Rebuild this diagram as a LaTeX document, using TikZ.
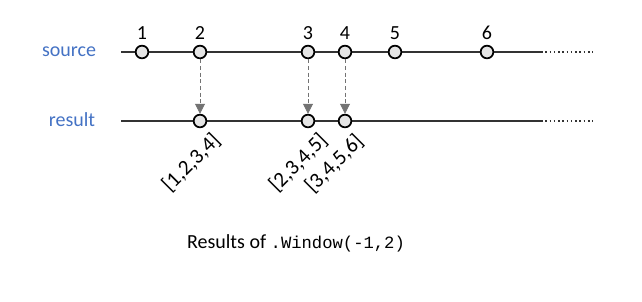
\documentclass[tikz,border=0pt]{standalone}
\usepackage{fontspec}
\setmainfont{Carlito}
\setmonofont{Liberation Mono}[Scale=0.86]
\usetikzlibrary{arrows.meta,positioning}
\definecolor{lineblue}{RGB}{68,114,196}

\begin{document}
\begin{tikzpicture}[x=0.75pt,y=-0.75pt,
  font=\fontsize{15}{18}\selectfont,
  marble/.style={draw=black,circle,line width=1.3pt,fill=gray!20,inner sep=0pt,minimum size=9.5pt},
  tl/.style={line width=1.5pt,draw=black!80},
  tail/.style={dotted,line width=1.2pt,draw=black!80},
  lbl/.style={text=lineblue},
  num/.style={inner sep=0pt},
  feed/.style={draw=black!55,dash pattern=on 3pt off 2pt,line width=0.6pt,
    -{Triangle[width=7.5pt,length=7.5pt,fill=black!55]}},
  win/.style={rotate=45,anchor=east,inner sep=0pt,font=\fontsize{16}{19}\selectfont}
]
\useasboundingbox (0,0) rectangle (642,301);

% ---- time lines ----
\coordinate (sa) at (121,52); \coordinate (sb) at (541,52); \coordinate (sc) at (593,52);
\coordinate (ra) at (121,121); \coordinate (rb) at (541,121); \coordinate (rc) at (593,121);
\draw[tl] (sa) -- (sb); \draw[tail] (sb) -- (sc);
\draw[tl] (ra) -- (rb); \draw[tail] (rb) -- (rc);

\node[lbl] (src) at (69,52) {source};
\node[lbl] (res) at (72,120) {result};

% ---- source marbles ----
\foreach \n/\x in {1/142,2/200,3/308,4/345,5/395,6/487}{
  \node[marble] (s\n) at (\x,52) {};
  \node[num,above=4pt of s\n] (n\n) {\n};
}

% ---- result marbles ----
\node[marble] (w1) at (200,121) {};
\node[marble] (w2) at (308,121) {};
\node[marble] (w3) at (345,121) {};

\draw[feed] (s2) -- (w1);
\draw[feed] (s3) -- (w2);
\draw[feed] (s4) -- (w3);

% window contents
\node[win] (b1) at ([shift={(17,16)}]w1.center) {[1,2,3,4]};
\node[win] (b2) at ([shift={(16,16)}]w2.center) {[2,3,4,5]};
\node[win] (b3) at ([shift={(15,17)}]w3.center) {[3,4,5,6]};

\node (cap) at (296,243) {Results of \texttt{.Window(-1,2)}};
\end{tikzpicture}
\end{document}
